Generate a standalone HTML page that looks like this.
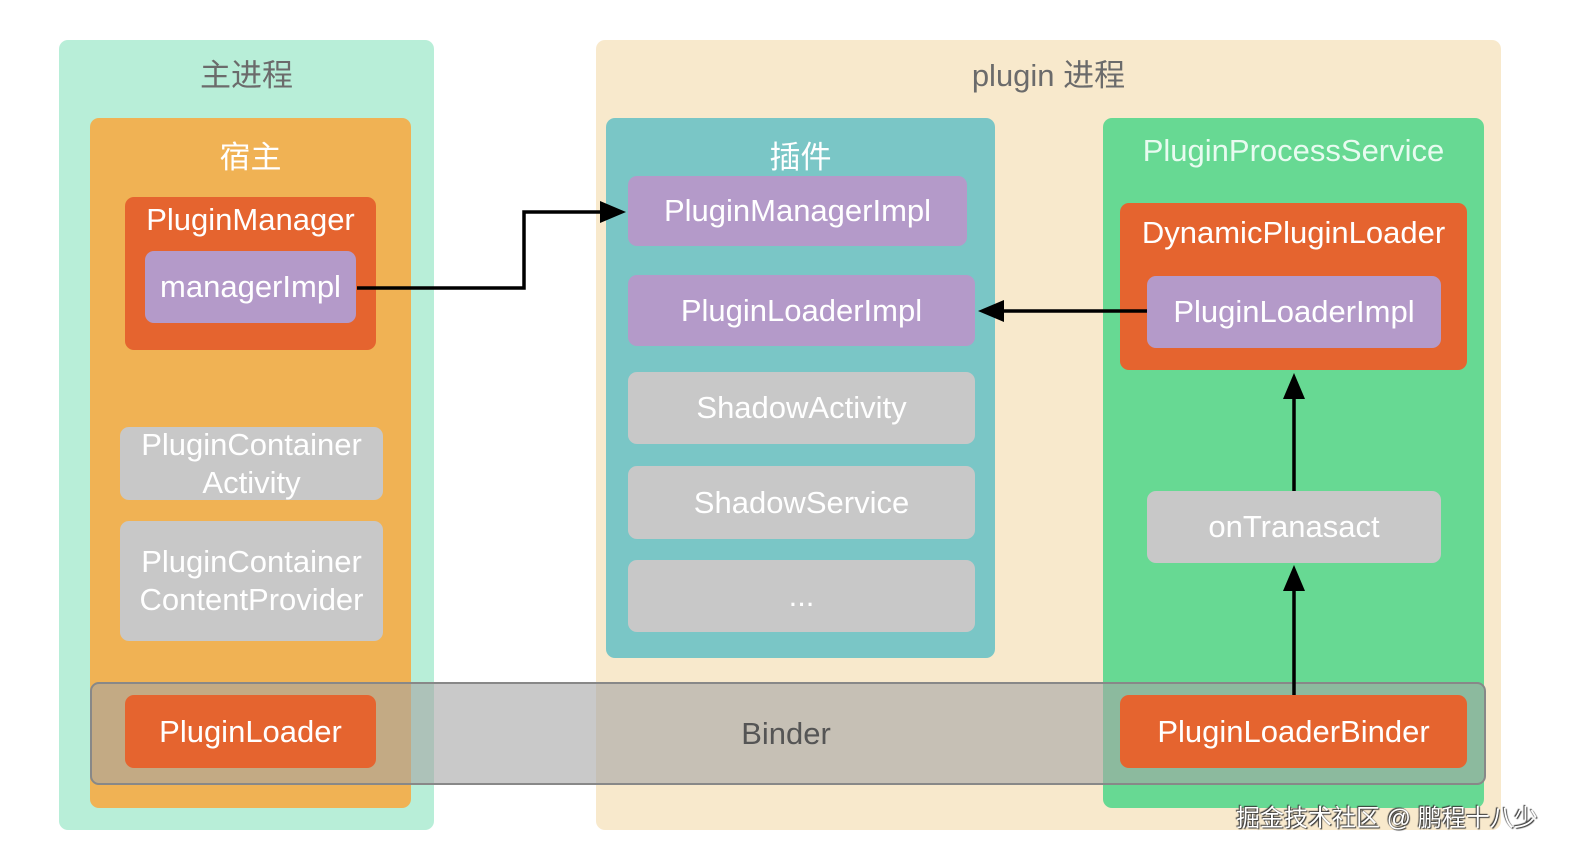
<!DOCTYPE html>
<html><head><meta charset="utf-8"><style>
body{margin:0;width:1584px;height:860px;background:#fff;position:relative;overflow:hidden;font-family:"Liberation Sans","Noto Sans CJK SC",sans-serif;}
.b{position:absolute;border-radius:9px;box-sizing:border-box;color:#fff;font-size:31px;text-align:center;display:flex;align-items:center;justify-content:center;line-height:1.22;}
.t{position:absolute;font-size:31px;text-align:center;color:#fff;}
.o{background:#e5642f}.p{background:#b49ac9}.g{background:#c8c8c8}
</style></head><body>
<div class="b" style="left:59px;top:40px;width:375px;height:790px;background:#b8eed8"></div>
<div class="t" style="left:59px;top:50px;width:375px;color:#6b6b6b">主进程</div>
<div class="b" style="left:596px;top:40px;width:905px;height:790px;background:#f8e9cc"></div>
<div class="t" style="left:596px;top:50px;width:905px;color:#6b6b6b">plugin 进程</div>

<div class="b" style="left:90px;top:118px;width:321px;height:690px;background:#f0b254"></div>
<div class="t" style="left:90px;top:132px;width:321px;">宿主</div>
<div class="b o" style="left:125px;top:197px;width:251px;height:153px"></div>
<div class="t" style="left:125px;top:202px;width:251px;font-size:31px">PluginManager</div>
<div class="b p" style="left:145px;top:251px;width:211px;height:72px">managerImpl</div>
<div class="b g" style="left:120px;top:427px;width:263px;height:73px">PluginContainer<br>Activity</div>
<div class="b g" style="left:120px;top:521px;width:263px;height:120px">PluginContainer<br>ContentProvider</div>

<div class="b" style="left:606px;top:118px;width:389px;height:540px;background:#7ac6c6"></div>
<div class="t" style="left:606px;top:132px;width:389px;">插件</div>
<div class="b p" style="left:628px;top:176px;width:339px;height:70px">PluginManagerImpl</div>
<div class="b p" style="left:628px;top:275px;width:347px;height:71px">PluginLoaderImpl</div>
<div class="b g" style="left:628px;top:372px;width:347px;height:72px">ShadowActivity</div>
<div class="b g" style="left:628px;top:466px;width:347px;height:73px">ShadowService</div>
<div class="b g" style="left:628px;top:560px;width:347px;height:72px">...</div>

<div class="b" style="left:1103px;top:118px;width:381px;height:690px;background:#67d993"></div>
<div class="t" style="left:1103px;top:133px;width:381px;color:#e8fbf0">PluginProcessService</div>
<div class="b o" style="left:1120px;top:203px;width:347px;height:167px"></div>
<div class="t" style="left:1120px;top:215px;width:347px;">DynamicPluginLoader</div>
<div class="b p" style="left:1147px;top:276px;width:294px;height:72px">PluginLoaderImpl</div>
<div class="b g" style="left:1147px;top:491px;width:294px;height:72px">onTranasact</div>

<div class="b" style="left:90px;top:682px;width:1396px;height:103px;background:rgba(165,165,165,0.6);border:2px solid #888;color:#555"><span style="margin-left:-4px">Binder</span></div>
<div class="b o" style="left:125px;top:695px;width:251px;height:73px">PluginLoader</div>
<div class="b o" style="left:1120px;top:695px;width:347px;height:73px">PluginLoaderBinder</div>

<svg style="position:absolute;left:0;top:0" width="1584" height="860">
<g stroke="#000" stroke-width="3.5" fill="none">
<polyline points="357,288 524,288 524,212 604,212"/>
<line x1="1147" y1="311" x2="1000" y2="311"/>
<line x1="1294" y1="695" x2="1294" y2="588"/>
<line x1="1294" y1="491" x2="1294" y2="396"/>
</g>
<polygon points="626,212 600,201 600,223"/>
<polygon points="978,311 1004,300 1004,322"/>
<polygon points="1294,565 1283,591 1305,591"/>
<polygon points="1294,373 1283,399 1305,399"/>
</svg>
<div style="position:absolute;left:1236px;top:798px;font-size:24px;color:#fff;text-shadow:1px 1px 1px #333,-1px -1px 1px #333">掘金技术社区 @ 鹏程十八少</div>
</body></html>
